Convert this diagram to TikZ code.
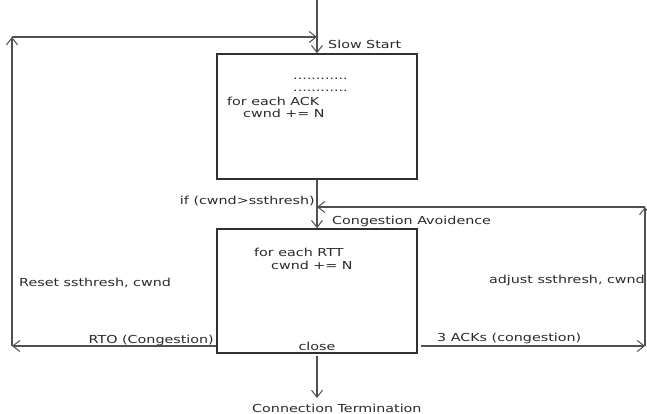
\documentclass[tikz,border=0pt]{standalone}
\usepackage{fontspec}
\setmainfont{DejaVu Sans}[FakeStretch=1.3]
\usetikzlibrary{arrows.meta}
\definecolor{linec}{HTML}{505050}
\definecolor{boxc}{HTML}{303030}
\definecolor{textc}{HTML}{2A2A2A}
\tikzset{
  conn/.style={draw=linec, line width=1.1pt, -{Straight Barb[length=7pt,width=11pt,line width=1pt]}},
  plain/.style={draw=linec, line width=1.1pt},
  statebox/.style={draw=boxc, line width=1.6pt, rectangle, minimum width=200pt, minimum height=125pt, inner sep=0pt},
  lbl/.style={text=textc, inner sep=0pt, font=\fontsize{11}{13}\selectfont},
}
\begin{document}
\begin{tikzpicture}[x=1pt,y=-1pt]
\useasboundingbox (0,0) rectangle (647,414);
% boxes
\node[statebox] (ss) at (317,116.5) {};
\node[statebox, minimum height=124pt] (ca) at (317,291) {};
% coordinates
\coordinate (top) at (317,0);
\coordinate (jtop) at (317,37);
\coordinate (ltop) at (12,37);
\coordinate (lbot) at (12,346);
\coordinate (rstart) at (421,346);
\coordinate (rbot) at (645,346);
\coordinate (rtop) at (645,207);
\coordinate (jmid) at (317,207);
\coordinate (bstart) at (317,356);
\coordinate (bend) at (317,398);
% connectors
\draw[conn] (top) -- (ss.north);
\draw[conn] (ltop) -- (jtop);
\draw[conn] (ss.south) -- (ca.north);
\draw[conn] (rtop) -- (jmid);
\draw[conn] (ca.west |- lbot) -- (lbot);
\draw[conn] (lbot) -- (ltop);
\draw[conn] (rstart) -- (rbot);
\draw[conn] (rbot) -- (rtop);
\draw[conn] (bstart) -- (bend);
% texts
\node[lbl, anchor=base west] (t1) at (328,49) {Slow Start};
\node[lbl, anchor=base west] (t2) at (293,80) {............};
\node[lbl, anchor=base west] (t3) at (293,92) {............};
\node[lbl, anchor=base west] (t4) at (227,106) {for each ACK};
\node[lbl, anchor=base west] (t5) at (243,118) {cwnd += N};
\node[lbl, anchor=base east] (t6) at (315,204) {if (cwnd>ssthresh)};
\node[lbl, anchor=base west] (t7) at (332,224) {Congestion Avoidence};
\node[lbl, anchor=base west] (t8) at (254,256) {for each RTT};
\node[lbl, anchor=base west] (t9) at (271,269) {cwnd += N};
\node[lbl, anchor=base west] (t10) at (19,286) {Reset ssthresh, cwnd};
\node[lbl, anchor=base east] (t11) at (645,283) {adjust ssthresh, cwnd};
\node[lbl, anchor=base east] (t12) at (214,343) {RTO (Congestion)};
\node[lbl, anchor=base west] (t13) at (437,341) {3 ACKs (congestion)};
\node[lbl, anchor=base] (t14) at (317,350) {close};
\node[lbl, anchor=base west] (t15) at (252,412) {Connection Termination};
\end{tikzpicture}
\end{document}
